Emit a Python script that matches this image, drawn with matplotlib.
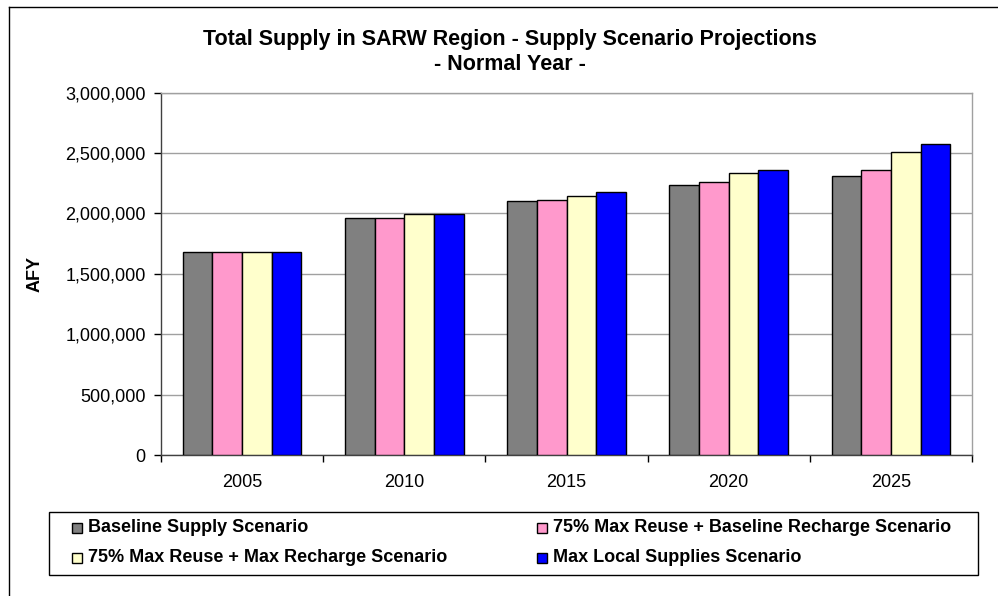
import matplotlib
matplotlib.use("Agg")
import matplotlib.pyplot as plt
import numpy as np
from matplotlib.lines import Line2D
from matplotlib.patches import Rectangle
from matplotlib.ticker import FuncFormatter, FixedLocator

years = ["2005", "2010", "2015", "2020", "2025"]
series_names = [
    "Baseline Supply Scenario",
    "75% Max Reuse + Baseline Recharge Scenario",
    "75% Max Reuse + Max Recharge Scenario",
    "Max Local Supplies Scenario",
]
baseline = [1682000, 1965000, 2100000, 2232000, 2307000]
reuse_base_recharge = [1682000, 1965000, 2112000, 2263000, 2356000]
reuse_max_recharge = [1682000, 1993000, 2147000, 2337000, 2508000]
max_local = [1682000, 1993000, 2180000, 2364000, 2577000]
colors = ["#808080", "#FF99CC", "#FFFFCC", "#0000FF"]

plt.rcParams['font.family'] = ['Liberation Sans', 'DejaVu Sans']

W, H = 998, 596
fig = plt.figure(figsize=(W / 100, H / 100), dpi=100)

def fx(px):
    return px / W

def fy(py):
    return 1 - py / H

# outer chart frame
fig.add_artist(Line2D([fx(9), fx(9)], [fy(7), fy(600)], color="black", lw=1.0, transform=fig.transFigure))
fig.add_artist(Line2D([fx(9), fx(1000)], [fy(7), fy(7)], color="black", lw=1.0, transform=fig.transFigure))

left, right, top, bottom = 161, 972, 92.7, 455
ax = fig.add_axes([fx(left), fy(bottom), fx(right - left), (bottom - top) / H])

data = [baseline, reuse_base_recharge, reuse_max_recharge, max_local]
x = np.arange(len(years))
bw = 0.1825
for i, (vals, c) in enumerate(zip(data, colors)):
    ax.bar(x + (i - 1.5) * bw, vals, width=bw, color=c, edgecolor="black",
           linewidth=1.0, zorder=3, label=series_names[i])

ax.set_xlim(-0.5, len(years) - 0.5)
ax.set_ylim(0, 3000000)
ax.set_yticks(np.arange(0, 3000001, 500000))
ax.yaxis.set_major_formatter(FuncFormatter(lambda v, p: f"{int(v):,}"))
ax.grid(axis="y", color="#a0a0a0", lw=1.0, zorder=0)

ax.set_xticks(x)
ax.set_xticklabels(years)
ax.xaxis.set_minor_locator(FixedLocator(np.arange(-0.5, len(years), 1.0)))
ax.tick_params(axis="x", which="major", length=0, pad=14, labelsize=13)
ax.tick_params(axis="x", which="minor", length=5, direction="out", width=1)
ax.tick_params(axis="y", length=5, direction="out", width=1, labelsize=13, pad=6)

for s in ["top", "right"]:
    ax.spines[s].set_color("#a0a0a0")
    ax.spines[s].set_linewidth(1.0)
for s in ["left", "bottom"]:
    ax.spines[s].set_color("#404040")
    ax.spines[s].set_linewidth(1.0)

fig.text(fx(35), fy(274), "AFY", rotation=90, fontsize=13, fontweight="bold",
         ha="center", va="center")

fig.text(fx(510), fy(40), "Total Supply in SARW Region - Supply Scenario Projections",
         fontsize=15.5, fontweight="bold", ha="center", va="center")
fig.text(fx(510), fy(64), "- Normal Year -", fontsize=15.5, fontweight="bold",
         ha="center", va="center")

# legend box (Excel-style, row-wise order)
fig.add_artist(Rectangle((fx(49), fy(575)), fx(978 - 49), (575 - 512) / H,
                         transform=fig.transFigure, facecolor="white",
                         edgecolor="black", lw=1.0))
col_x = [72, 537]
row_y = [528, 558]
for i, (name, c) in enumerate(zip(series_names, colors)):
    r, col = divmod(i, 2)
    mx, my = col_x[col], row_y[r]
    fig.add_artist(Rectangle((fx(mx), fy(my + 5)), fx(10), 10 / H,
                             transform=fig.transFigure, facecolor=c,
                             edgecolor="black", lw=1.0))
    fig.text(fx(mx + 16), fy(my), name, fontsize=13, fontweight="bold",
             ha="left", va="center")

fig.savefig("out.png", dpi=100)
